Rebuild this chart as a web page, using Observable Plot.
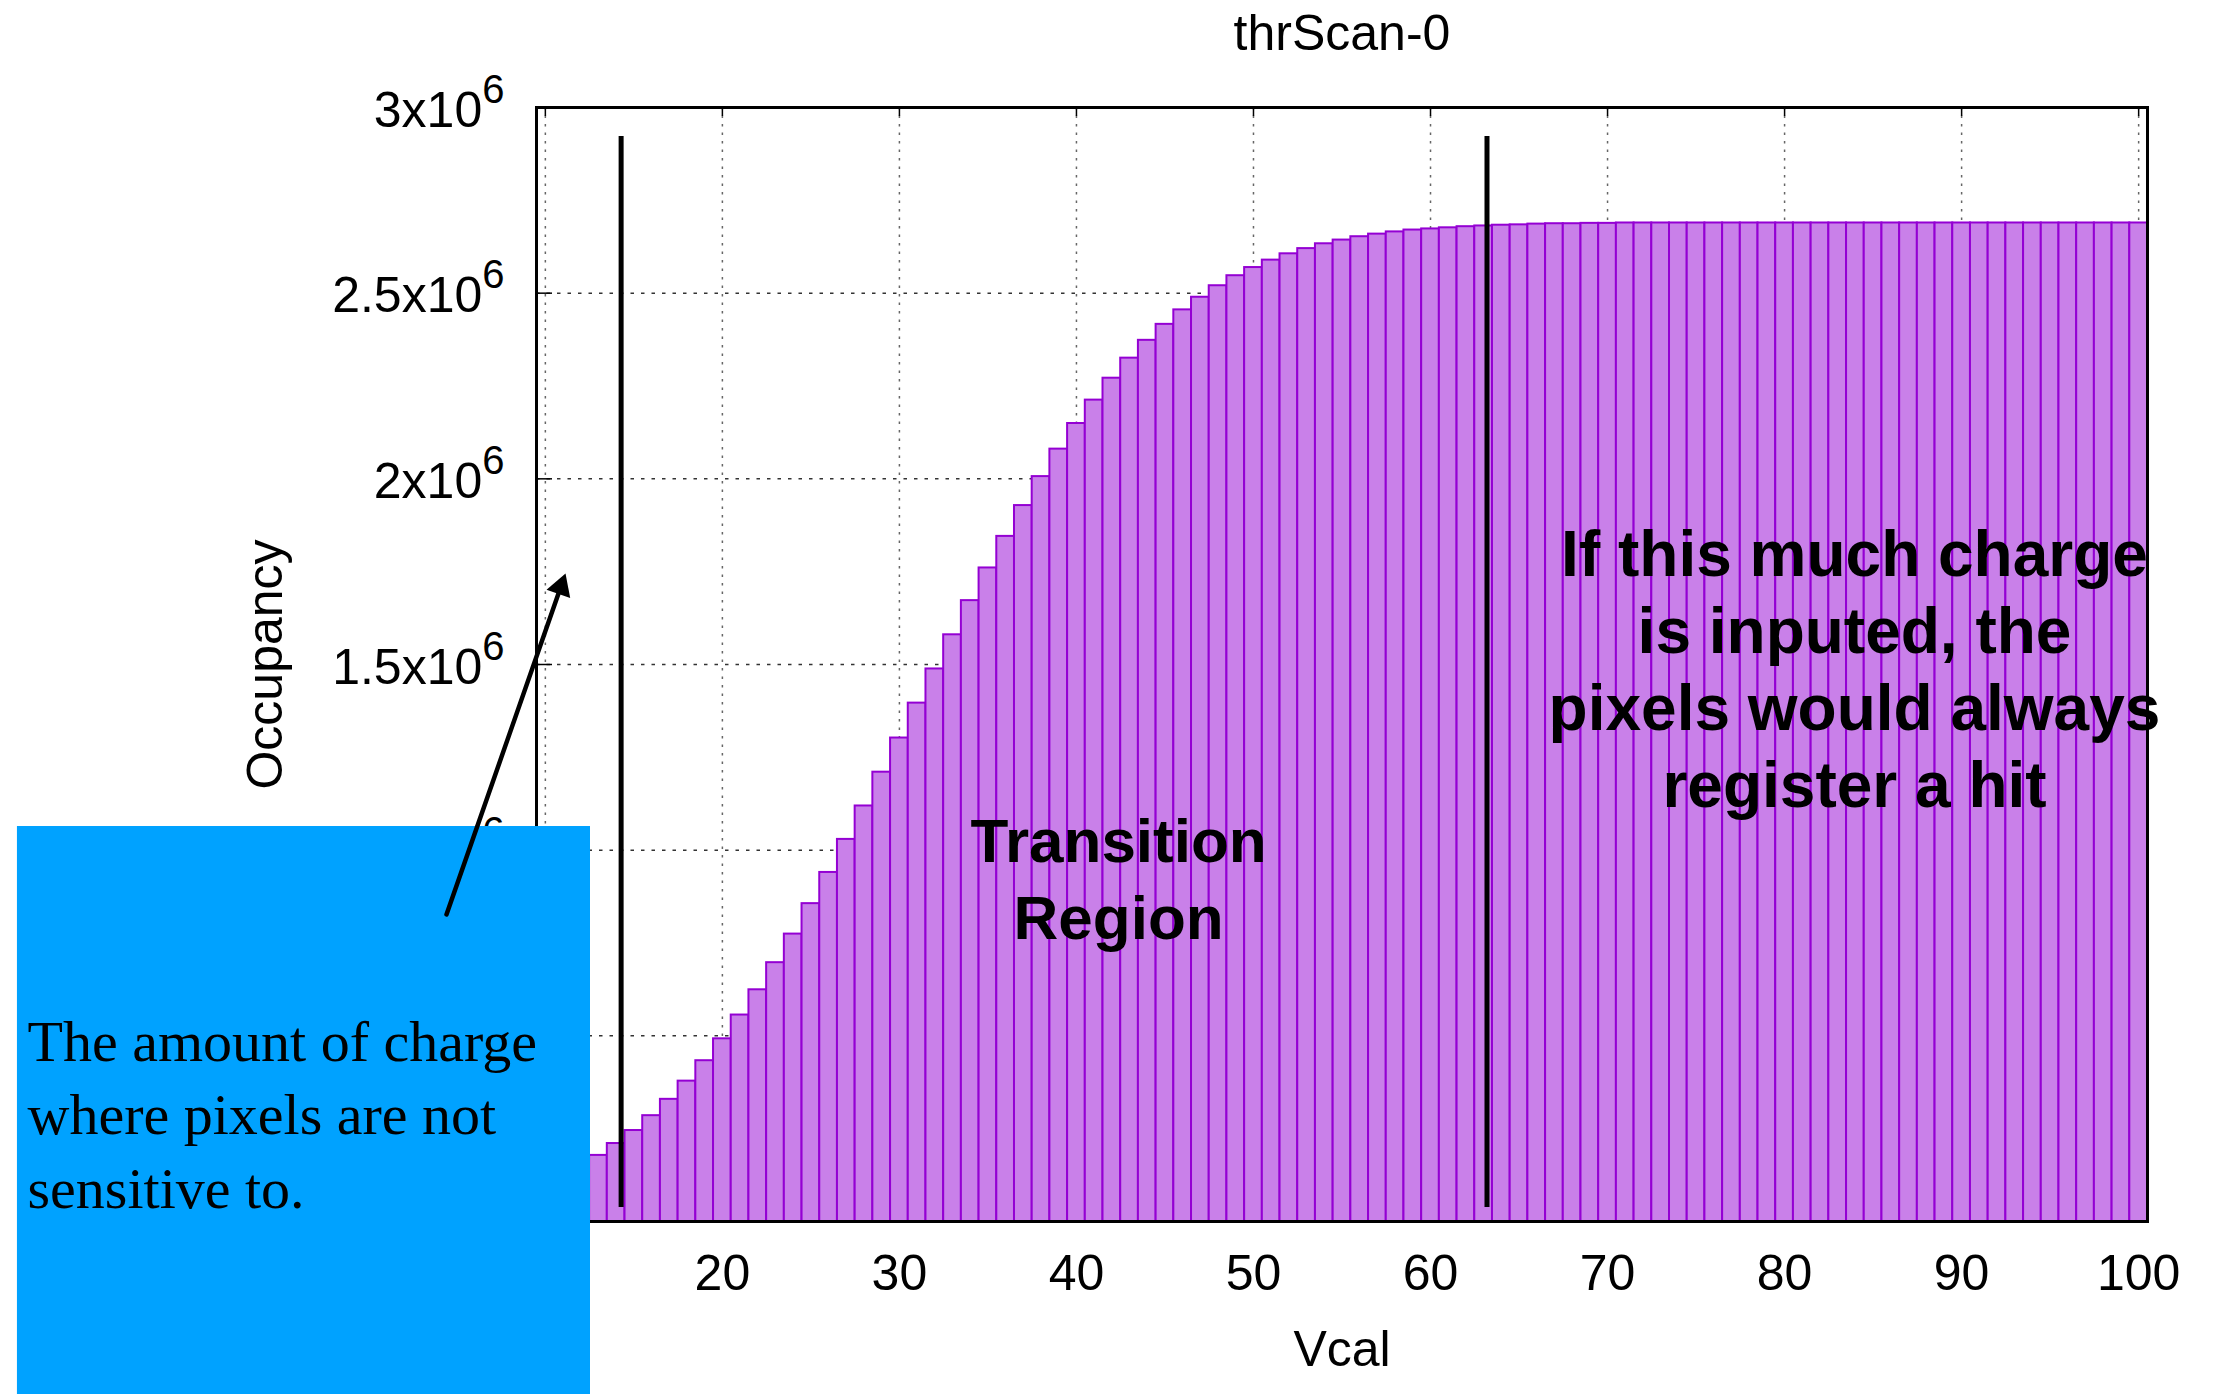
<!DOCTYPE html>
<html><head><meta charset="utf-8">
<script src="https://cdn.jsdelivr.net/npm/d3@7"></script>
<script src="https://cdn.jsdelivr.net/npm/@observablehq/plot@0.6"></script>
<style>html,body{margin:0;padding:0;background:#fff;} #chart svg{display:block;}</style>
</head><body><div id="chart"></div>
<script>
// ---- data ----
const vcal = [10,11,12,13,14,15,16,17,18,19,20,21,22,23,24,25,26,27,28,29,30,31,32,33,34,35,36,37,38,39,40,
  41,42,43,44,45,46,47,48,49,50,51,52,53,54,55,56,57,58,59,60,61,62,63,64,65,66,67,68,69,70,
  71,72,73,74,75,76,77,78,79,80,81,82,83,84,85,86,87,88,89,90,91,92,93,94,95,96,97,98,99,100];
const occupancy = [97000,121000,148000,178000,210000,245000,285000,329000,378000,433000,
  492000,556000,624000,697000,774000,856000,940000,1029000,1119000,1210000,
  1302000,1396000,1488000,1580000,1672000,1760000,1845000,1928000,2006000,2080000,
  2149000,2212000,2271000,2325000,2373000,2416000,2455000,2489000,2520000,2547000,
  2569000,2589000,2606000,2620000,2633000,2643000,2652000,2659000,2665000,2670000,
  2673000,2676000,2679000,2681000,2683000,2684000,2686000,2687000,2687000,2688000,
  2688000,2689000,2689000,2689000,2689000,2689000,2689000,2689000,2689000,2689000,
  2689000,2689000,2689000,2689000,2689000,2689000,2689000,2689000,2689000,2689000,
  2689000,2689000,2689000,2689000,2689000,2689000,2689000,2689000,2689000,2689000,2689000];
const xTicks = [10,20,30,40,50,60,70,80,90,100];
const yTicks = [0,500000,1000000,1500000,2000000,2500000,3000000];
const yTickLabels = ["0","500000","1x10^6","1.5x10^6","2x10^6","2.5x10^6","3x10^6"];
const title = "thrScan-0";
const xLabel = "Vcal";
const yLabel = "Occupancy";
// annotations (data coordinates)
const regionLines = [{x: 14.28}, {x: 63.19}];
const regionLineY = [37700, 2922000];
const regionTexts = [
  {x: 42.38, y: 1115000, text: "Transition\nRegion", size: 62},
  {x: 83.95, y: 1884000, text: "If this much charge\nis inputed, the\npixels would always\nregister a hit", size: 64}
];
const noteBox = [{x1: -19.82, x2: 12.55, y1: -465900, y2: 1063700}];
const noteText = [{x: -19.25, y: 573000, text: "The amount of charge\nwhere pixels are not\nsensitive to."}];
const noteArrow = [{x1: 4.416, y1: 826800, x2: 11.138, y2: 1745000}];

// ---- layout ----
const W = 2214, H = 1394, mL = 536, mR = 67, mT = 107, mB = 173;
const xDomain = [9.5, 100.5], yDomain = [0, 3000000];
const frameW = W - mL - mR, frameH = H - mT - mB;
const bars = vcal.map((v, i) => ({v, occ: occupancy[i]}));

const xs = Plot.scale({x: {domain: xDomain, range: [mL, W - mR]}});
const ys = Plot.scale({y: {domain: yDomain, range: [H - mB, mT]}});
const a = noteArrow[0];
const sdx = xs.apply(a.x2) - xs.apply(a.x1), sdy = ys.apply(a.y2) - ys.apply(a.y1);
const theta = Math.atan2(sdx, -sdy); // clockwise from up
const headOff = 14.4;

const sans = "Liberation Sans, Arial, Helvetica, sans-serif";
const purple = "#9400d3";

const svg = Plot.plot({
  width: W, height: H,
  marginLeft: mL, marginRight: mR, marginTop: mT, marginBottom: mB,
  style: {fontFamily: sans, background: "#fff", color: "#000"},
  x: {domain: xDomain},
  y: {domain: yDomain},
  marks: [
    Plot.gridX(xTicks, {stroke: "#666", strokeOpacity: 1, strokeWidth: 1.5, strokeDasharray: "2.5,6"}),
    Plot.gridY(yTicks, {stroke: "#333", strokeOpacity: 1, strokeWidth: 1.5, strokeDasharray: "3.5,7"}),
    Plot.tickX(xTicks, {x: d => d, stroke: "#000", strokeWidth: 1.5, insetBottom: frameH - 9}),
    Plot.tickY(yTicks, {y: d => d, stroke: "#000", strokeWidth: 1.5, insetRight: frameW - 16}),
    Plot.tickY(yTicks, {y: d => d, stroke: "#000", strokeWidth: 1.5, insetLeft: frameW - 16}),
    Plot.rectY(bars, {x1: d => d.v - 0.5, x2: d => d.v + 0.5, y: "occ", fill: "#c980e9", stroke: purple, strokeWidth: 2}),
    Plot.ruleX(regionLines, {x: "x", y1: regionLineY[0], y2: regionLineY[1], stroke: "#000", strokeWidth: 5}),
    Plot.text(regionTexts.slice(0, 1), {x: "x", y: "y", text: "text", lineAnchor: "top", textAnchor: "middle",
      fontWeight: "bold", fontSize: 62, lineHeight: 1.245, fill: "#000", fontFamily: sans}),
    Plot.text(regionTexts.slice(1), {x: "x", y: "y", text: "text", lineAnchor: "top", textAnchor: "middle",
      fontWeight: "bold", fontSize: 64, lineHeight: 1.2, fill: "#000", fontFamily: sans}),
    Plot.frame({stroke: "#000", strokeWidth: 3}),
    Plot.axisX(xTicks, {tickSize: 0, tickPadding: 33, fontSize: 50, label: null}),
    Plot.axisY(yTicks, {tickSize: 0, tickPadding: 32, fontSize: 50, label: null, dy: 3,
      tickFormat: d => yTickLabels[yTicks.indexOf(d)]}),
    Plot.text([title], {text: d => d, frameAnchor: "top", dy: -74, lineAnchor: "middle", fontSize: 50}),
    Plot.text([xLabel], {text: d => d, frameAnchor: "bottom", dy: 128, lineAnchor: "middle", fontSize: 50}),
    Plot.text([yLabel], {text: d => d, frameAnchor: "left", dx: -271, rotate: -90, textAnchor: "middle",
      lineAnchor: "middle", fontSize: 50}),
    Plot.rect(noteBox, {x1: "x1", x2: "x2", y1: "y1", y2: "y2", fill: "#00a2ff"}),
    Plot.text(noteText, {x: "x", y: "y", text: "text", lineAnchor: "top", textAnchor: "start",
      fontSize: 58, lineHeight: 1.266, fill: "#000", fontFamily: "Liberation Serif, Times New Roman, serif"}),
    Plot.arrow(noteArrow, {x1: "x1", y1: "y1", x2: "x2", y2: "y2", stroke: "#000", strokeWidth: 4.5,
      headLength: 0, insetEnd: 12}),
    Plot.dot([a], {x: "x2", y: "y2", symbol: "triangle", r: 9.3, fill: "#000", stroke: "none",
      rotate: theta * 180 / Math.PI, dx: -headOff * Math.sin(theta), dy: headOff * Math.cos(theta)})
  ]
});

// superscript exponents in y tick labels
svg.querySelectorAll('g[aria-label="y-axis tick label"] text').forEach(t => {
  const s = t.textContent, k = s.indexOf("^");
  if (k < 0) return;
  t.textContent = s.slice(0, k);
  const ts = document.createElementNS("http://www.w3.org/2000/svg", "tspan");
  ts.setAttribute("dy", "-24");
  ts.setAttribute("font-size", "40");
  ts.textContent = s.slice(k + 1);
  t.appendChild(ts);
});

document.getElementById("chart").appendChild(svg);
</script>
</body></html>
